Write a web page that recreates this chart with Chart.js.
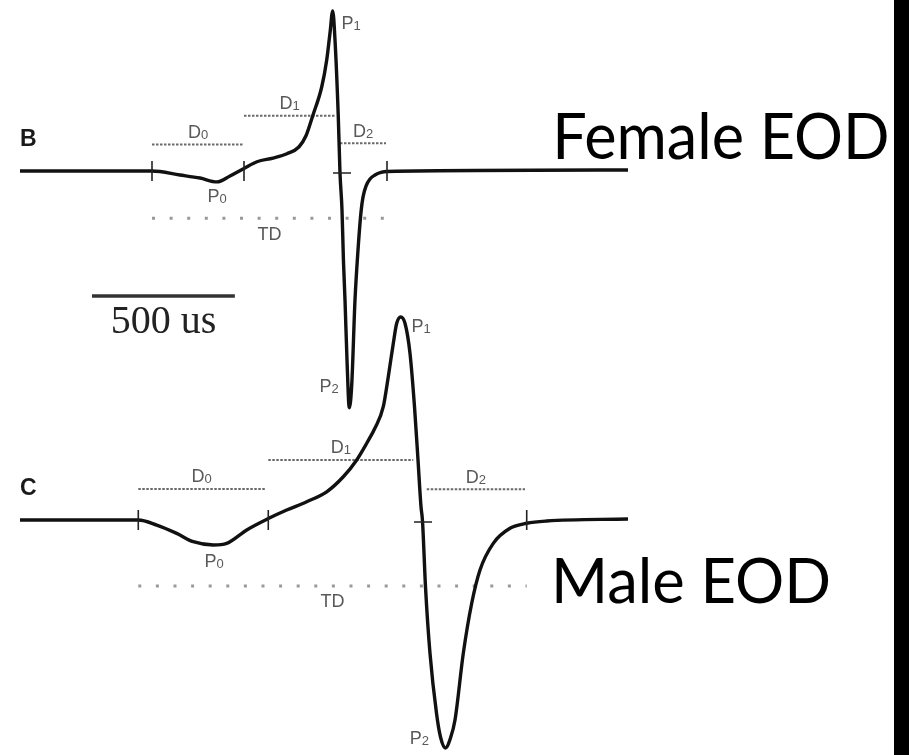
<!DOCTYPE html>
<html>
<head>
<meta charset="utf-8">
<title>EOD</title>
<script src="https://cdn.jsdelivr.net/npm/chart.js@4.4.1/dist/chart.umd.min.js"></script>
<style>
  html, body { margin: 0; padding: 0; background: #fff; }
  #eod { display: block; }
</style>
</head>
<body>
<canvas id="eod" width="909" height="755"></canvas>
<script>
// time in microseconds from trace start, amplitude normalised to P1 = 1
const femaleTime = [0, 462, 560, 630, 689.5, 735, 784, 829.5, 885.5, 934.5, 976, 1001, 1025.5, 1056, 1073.5, 1085, 1094.5, 1102.5, 1114, 1120, 1127, 1132, 1137.5, 1144.5, 1152.5, 1161, 1172.5, 1183, 1193.5, 1200.5, 1211, 1225, 1242.5, 1263.5, 1284.5, 2128];
const femaleAmp = [0, 0, -0.025, -0.044, -0.068, -0.031, 0.016, 0.058, 0.081, 0.108, 0.15, 0.22, 0.35, 0.525, 0.694, 0.863, 1.0, 0.819, 0.338, -0.013, -0.244, -0.556, -0.806, -1.181, -1.48, -1.338, -0.806, -0.494, -0.256, -0.163, -0.094, -0.05, -0.025, -0.009, -0.003, 0.006];

const maleTime = [0, 414, 478.5, 548.5, 606.5, 676.5, 723.5, 793.5, 869, 933.5, 1003.5, 1073.5, 1131.5, 1178.5, 1213.5, 1242.5, 1271.5, 1289, 1306.5, 1318.5, 1332.5, 1347.5, 1365, 1380.75, 1393, 1403.5, 1408.75, 1419.25, 1435, 1457.75, 1471.75, 1489.25, 1506.75, 1522.5, 1551.5, 1581, 1610, 1656.5, 1715, 1773.5, 1843.5, 2128];
const maleAmp = [0, 0, -0.025, -0.066, -0.107, -0.123, -0.115, -0.049, 0.007, 0.049, 0.09, 0.139, 0.213, 0.296, 0.378, 0.453, 0.558, 0.706, 0.87, 0.969, 1.0, 0.969, 0.821, 0.558, 0.296, 0.066, -0.005, -0.329, -0.657, -0.952, -1.069, -1.123, -1.074, -0.985, -0.657, -0.41, -0.246, -0.115, -0.041, -0.016, -0.005, 0.005];

// phase boundaries (start, P0/P1, end) and the P1 -> P2 zero crossing
const femaleBounds = [462, 784, 1284.5];
const femaleZero = 1127;
const maleBounds = [414, 869, 1773.5];
const maleZero = 1410.5;

// phase durations D0, D1, D2
const durationNames = ["D0", "D1", "D2"];
const femaleDurStart = [462, 784, 1120];
const femaleDurEnd = [784, 1102.5, 1281];
const femaleDurLevel = [0.166, 0.346, 0.173];
const maleDurStart = [414, 869, 1423.5];
const maleDurEnd = [857.5, 1376.5, 1767.5];
const maleDurLevel = [0.153, 0.296, 0.151];

// total duration TD: [start, end, level]
const femaleTD = [462, 1284.5, -0.296];
const maleTD = [414, 1773.5, -0.325];

// peak labels P0, P1, P2: [time, amplitude]
const peakNames = ["P0", "P1", "P2"];
const femalePeakLabels = [[689.5, -0.15], [1158.5, 0.931], [1081.5, -1.338]];
const malePeakLabels = [[679, -0.2], [1403.5, 0.956], [1398, -1.069]];

// 500 us scale bar: start time, length, level on the female axis
const scaleBar = [252, 500, -0.781];

function toPoints(xs, ys) {
  return xs.map((x, i) => ({ x: x, y: ys[i] }));
}

function segment(a, b, level) {
  return [{ x: a, y: level }, { x: b, y: level }];
}

const datasets = [
  {
    data: toPoints(femaleTime, femaleAmp), yAxisID: "yF",
    borderColor: "#111", borderWidth: 3.4, cubicInterpolationMode: "monotone", order: 0
  },
  {
    data: toPoints(maleTime, maleAmp), yAxisID: "yM",
    borderColor: "#111", borderWidth: 3.4, cubicInterpolationMode: "monotone", order: 0
  },
  {
    data: segment(scaleBar[0], scaleBar[0] + scaleBar[1], scaleBar[2]), yAxisID: "yF",
    borderColor: "#333", borderWidth: 3.5, order: 1
  }
];

durationNames.forEach((n, i) => {
  datasets.push({
    data: segment(femaleDurStart[i], femaleDurEnd[i], femaleDurLevel[i]), yAxisID: "yF",
    borderColor: "#6a6a6a", borderWidth: 2, borderDash: [2.5, 1.5], order: 2
  });
  datasets.push({
    data: segment(maleDurStart[i], maleDurEnd[i], maleDurLevel[i]), yAxisID: "yM",
    borderColor: "#6a6a6a", borderWidth: 2, borderDash: [2.5, 1.5], order: 2
  });
});

[[femaleTD, "yF"], [maleTD, "yM"]].forEach(([td, axis]) => {
  datasets.push({
    data: segment(td[0], td[1], td[2]), yAxisID: axis,
    borderColor: "#999", borderWidth: 3, borderDash: [3, 14.6], borderCapStyle: "butt", order: 2
  });
});

const labelFont = "18px 'Liberation Sans', Arial, sans-serif";
const subFont = "13px 'Liberation Sans', Arial, sans-serif";

// "P1" style label: main letter plus small subscript, centred on (x, y)
function drawLabel(ctx, text, x, y) {
  const hasSub = /\d$/.test(text);
  const main = hasSub ? text.slice(0, -1) : text;
  const sub = hasSub ? text.slice(-1) : "";
  ctx.textAlign = "left";
  ctx.textBaseline = "alphabetic";
  ctx.font = labelFont;
  const wMain = ctx.measureText(main).width;
  ctx.font = subFont;
  const wSub = sub ? ctx.measureText(sub).width : 0;
  const left = x - (wMain + wSub) / 2;
  ctx.fillStyle = "#595959";
  ctx.font = labelFont;
  ctx.fillText(main, left, y + 6.5);
  if (sub) {
    ctx.font = subFont;
    ctx.fillText(sub, left + wMain, y + 7.5);
  }
}

// draw text so its ink spans exactly from left to right
function drawFitted(ctx, text, font, left, right, baseline) {
  ctx.save();
  ctx.font = font;
  ctx.textAlign = "left";
  ctx.textBaseline = "alphabetic";
  const m = ctx.measureText(text);
  const ink = m.actualBoundingBoxLeft + m.actualBoundingBoxRight;
  const s = (right - left) / ink;
  ctx.translate(left, baseline);
  ctx.scale(s, 1);
  ctx.fillStyle = "#000";
  ctx.fillText(text, m.actualBoundingBoxLeft, 0);
  ctx.restore();
}

const annotations = {
  id: "eodAnnotations",
  afterDraw(chart) {
    const ctx = chart.ctx;
    const x = chart.scales.x;
    const traces = [
      { y: chart.scales.yF, bounds: femaleBounds, zero: femaleZero, start: femaleDurStart, end: femaleDurEnd,
        level: femaleDurLevel, td: femaleTD, peaks: femalePeakLabels, panel: "B" },
      { y: chart.scales.yM, bounds: maleBounds, zero: maleZero, start: maleDurStart, end: maleDurEnd,
        level: maleDurLevel, td: maleTD, peaks: malePeakLabels, panel: "C" }
    ];

    ctx.save();
    traces.forEach(tr => {
      const base = tr.y.getPixelForValue(0);
      // phase boundary ticks
      ctx.strokeStyle = "#222";
      ctx.lineWidth = 1.6;
      ctx.beginPath();
      tr.bounds.forEach(t => {
        const px = x.getPixelForValue(t);
        ctx.moveTo(px, base - 10);
        ctx.lineTo(px, base + 10);
      });
      const pz = x.getPixelForValue(tr.zero);
      ctx.moveTo(pz - 9, base + 2);
      ctx.lineTo(pz + 9, base + 2);
      ctx.stroke();

      // duration labels above their bars, TD below
      durationNames.forEach((n, i) => {
        const cx = x.getPixelForValue((tr.start[i] + tr.end[i]) / 2);
        drawLabel(ctx, n, cx, tr.y.getPixelForValue(tr.level[i]) - 13);
      });
      drawLabel(ctx, "TD", x.getPixelForValue((tr.td[0] + tr.td[1]) / 2), tr.y.getPixelForValue(tr.td[2]) + 15);

      peakNames.forEach((n, i) => {
        drawLabel(ctx, n, x.getPixelForValue(tr.peaks[i][0]), tr.y.getPixelForValue(tr.peaks[i][1]));
      });

      // panel letter
      ctx.fillStyle = "#1a1a1a";
      ctx.font = "bold 23px 'Liberation Sans', Arial, sans-serif";
      ctx.textAlign = "left";
      ctx.fillText(tr.panel, x.getPixelForValue(0), base - 25);
    });

    // scale bar caption
    ctx.fillStyle = "#222";
    ctx.font = "40px 'Liberation Serif', 'Times New Roman', serif";
    ctx.textAlign = "center";
    ctx.textBaseline = "alphabetic";
    ctx.fillText("500 us", x.getPixelForValue(scaleBar[0] + scaleBar[1] / 2), chart.scales.yF.getPixelForValue(scaleBar[2]) + 37);
    ctx.restore();

    drawFitted(ctx, "Female EOD", "64px Lato, 'Open Sans', sans-serif", 557, 887, 159);
    drawFitted(ctx, "Male EOD", "62px Lato, 'Open Sans', sans-serif", 556, 829, 603);

    // black strip on the right edge
    ctx.save();
    ctx.fillStyle = "#000";
    ctx.fillRect(894, 0, chart.width - 894, chart.height);
    ctx.restore();
  }
};

new Chart(document.getElementById("eod").getContext("2d"), {
  type: "line",
  data: { datasets: datasets },
  options: {
    responsive: false,
    animation: false,
    devicePixelRatio: 1,
    layout: { padding: 0 },
    elements: { point: { radius: 0 }, line: { tension: 0 } },
    plugins: { legend: { display: false }, tooltip: { enabled: false } },
    scales: {
      x: { type: "linear", min: -70, max: 3111.5, display: false },
      yF: { type: "linear", min: -3.65, max: 1.06875, display: false },
      yM: { type: "linear", min: -1.1576, max: 2.5616, display: false }
    }
  },
  plugins: [annotations]
});
</script>
</body>
</html>
